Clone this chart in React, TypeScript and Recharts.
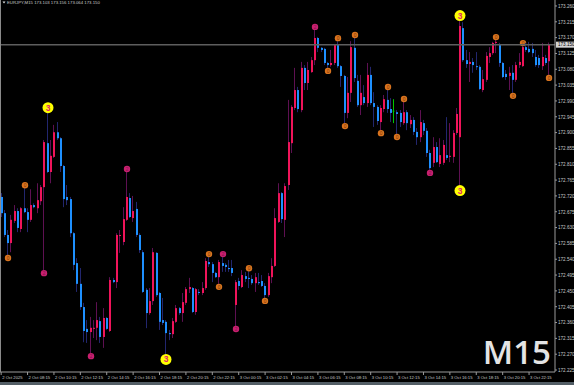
import { ComposedChart, Bar, XAxis, YAxis, ReferenceLine } from "recharts";

// [open, high, low, close] per M15 bar, EURJPY
const candles: [number, number, number, number][] = [
  [172.717, 172.728, 172.660, 172.671], [172.671, 172.680, 172.603, 172.609], [172.609, 172.623, 172.552, 172.586],
  [172.586, 172.666, 172.560, 172.652], [172.649, 172.694, 172.643, 172.677], [172.677, 172.685, 172.617, 172.629],
  [172.626, 172.688, 172.617, 172.685], [172.685, 172.742, 172.671, 172.674], [172.674, 172.685, 172.617, 172.652],
  [172.652, 172.739, 172.646, 172.694], [172.694, 172.699, 172.685, 172.688], [172.685, 172.756, 172.671, 172.708],
  [172.705, 172.751, 172.694, 172.745], [172.745, 172.879, 172.509, 172.873], [172.870, 172.958, 172.785, 172.788],
  [172.788, 172.879, 172.756, 172.834], [172.831, 172.922, 172.828, 172.901], [172.901, 172.930, 172.879, 172.884],
  [172.884, 172.887, 172.788, 172.805], [172.805, 172.808, 172.688, 172.711], [172.717, 172.751, 172.694, 172.708],
  [172.711, 172.717, 172.603, 172.614], [172.614, 172.617, 172.509, 172.524], [172.529, 172.543, 172.447, 172.470],
  [172.470, 172.515, 172.396, 172.404], [172.404, 172.416, 172.304, 172.336], [172.342, 172.367, 172.302, 172.333],
  [172.333, 172.376, 172.273, 172.345], [172.342, 172.367, 172.316, 172.345], [172.345, 172.418, 172.310, 172.367],
  [172.364, 172.376, 172.302, 172.319], [172.319, 172.401, 172.288, 172.373], [172.373, 172.376, 172.339, 172.342],
  [172.336, 172.489, 172.333, 172.481], [172.481, 172.487, 172.472, 172.475], [172.475, 172.614, 172.458, 172.609],
  [172.606, 172.623, 172.558, 172.609], [172.589, 172.688, 172.580, 172.654], [172.652, 172.788, 172.649, 172.717],
  [172.714, 172.728, 172.657, 172.660], [172.657, 172.720, 172.646, 172.677], [172.683, 172.703, 172.603, 172.609],
  [172.609, 172.614, 172.558, 172.566], [172.560, 172.566, 172.444, 172.447], [172.453, 172.458, 172.344, 172.387],
  [172.387, 172.458, 172.382, 172.421], [172.421, 172.572, 172.410, 172.560], [172.558, 172.560, 172.433, 172.438],
  [172.444, 172.447, 172.339, 172.362], [172.367, 172.430, 172.353, 172.359], [172.362, 172.367, 172.268, 172.330],
  [172.330, 172.339, 172.310, 172.327], [172.327, 172.373, 172.316, 172.364], [172.362, 172.410, 172.359, 172.401],
  [172.401, 172.404, 172.382, 172.387], [172.387, 172.444, 172.362, 172.418], [172.416, 172.461, 172.410, 172.455],
  [172.455, 172.487, 172.444, 172.461], [172.458, 172.461, 172.387, 172.390], [172.390, 172.458, 172.382, 172.455],
  [172.447, 172.455, 172.438, 172.444], [172.444, 172.475, 172.438, 172.458], [172.458, 172.543, 172.453, 172.535],
  [172.532, 172.546, 172.518, 172.526], [172.526, 172.532, 172.475, 172.501], [172.501, 172.504, 172.487, 172.489],
  [172.489, 172.538, 172.470, 172.532], [172.529, 172.546, 172.504, 172.521], [172.524, 172.529, 172.504, 172.518],
  [172.515, 172.538, 172.504, 172.512], [172.515, 172.538, 172.492, 172.501], [172.410, 172.481, 172.350, 172.475],
  [172.478, 172.487, 172.453, 172.464], [172.461, 172.509, 172.458, 172.495], [172.492, 172.504, 172.475, 172.484],
  [172.487, 172.506, 172.458, 172.484], [172.484, 172.495, 172.467, 172.472], [172.472, 172.501, 172.447, 172.489],
  [172.475, 172.501, 172.467, 172.472], [172.478, 172.495, 172.461, 172.464], [172.464, 172.472, 172.430, 172.438],
  [172.438, 172.501, 172.433, 172.492], [172.489, 172.543, 172.472, 172.521], [172.521, 172.685, 172.518, 172.657],
  [172.646, 172.756, 172.643, 172.728], [172.728, 172.731, 172.643, 172.654], [172.652, 172.756, 172.603, 172.748],
  [172.751, 172.993, 172.737, 172.873], [172.870, 172.978, 172.842, 172.973], [172.970, 173.084, 172.964, 173.021],
  [173.021, 173.030, 172.958, 172.967], [172.964, 173.101, 172.958, 173.084], [173.084, 173.092, 173.021, 173.041],
  [173.041, 173.101, 173.021, 173.078], [173.072, 173.115, 173.070, 173.106], [173.106, 173.192, 173.092, 173.169],
  [173.169, 173.172, 173.129, 173.141], [173.141, 173.143, 173.129, 173.135], [173.138, 173.141, 173.092, 173.098],
  [173.098, 173.101, 173.084, 173.092], [173.092, 173.135, 173.087, 173.098], [173.098, 173.152, 173.092, 173.149],
  [173.149, 173.160, 173.084, 173.089], [173.089, 173.092, 173.030, 173.061], [173.061, 173.064, 172.927, 172.956],
  [172.956, 173.058, 172.941, 173.013], [173.013, 173.160, 172.987, 173.143], [173.141, 173.169, 173.044, 173.055],
  [173.047, 173.064, 172.973, 172.978], [172.978, 173.064, 172.950, 173.013], [173.001, 173.035, 172.978, 172.984],
  [172.984, 173.098, 172.973, 173.064], [173.064, 173.087, 172.978, 172.984], [172.984, 173.015, 172.916, 172.973],
  [172.973, 172.978, 172.922, 172.933], [172.930, 172.978, 172.907, 172.970], [172.967, 173.007, 172.958, 172.995],
  [172.993, 173.021, 172.956, 172.967], [172.967, 172.998, 172.930, 172.956], [172.961, 172.995, 172.927, 172.961],
  [172.958, 172.964, 172.896, 172.953], [172.956, 172.964, 172.916, 172.930], [172.927, 172.987, 172.922, 172.958],
  [172.958, 172.964, 172.907, 172.927], [172.924, 172.950, 172.913, 172.936], [172.936, 172.944, 172.893, 172.902],
  [172.902, 172.913, 172.865, 172.887], [172.887, 172.964, 172.873, 172.930], [172.927, 172.936, 172.893, 172.905],
  [172.905, 172.913, 172.831, 172.842], [172.842, 172.851, 172.794, 172.799], [172.814, 172.887, 172.802, 172.859],
  [172.859, 172.873, 172.814, 172.816], [172.811, 172.884, 172.802, 172.836], [172.814, 172.879, 172.808, 172.865],
  [172.836, 172.944, 172.822, 172.828], [172.831, 172.927, 172.816, 172.834], [172.831, 172.907, 172.814, 172.899],
  [172.899, 172.970, 172.893, 172.953], [172.887, 173.220, 172.748, 173.203], [173.197, 173.214, 173.101, 173.106],
  [173.106, 173.135, 173.084, 173.095], [173.095, 173.129, 173.044, 173.101], [173.101, 173.112, 173.070, 173.092],
  [173.089, 173.129, 173.078, 173.087], [173.087, 173.092, 173.021, 173.024], [173.021, 173.078, 173.015, 173.052],
  [173.050, 173.129, 173.044, 173.118], [173.115, 173.143, 173.098, 173.126], [173.126, 173.158, 173.121, 173.155],
  [173.155, 173.163, 173.126, 173.158], [173.149, 173.155, 173.087, 173.098], [173.098, 173.101, 173.055, 173.058],
  [173.067, 173.078, 173.050, 173.058], [173.061, 173.087, 173.021, 173.070], [173.070, 173.092, 173.013, 173.050],
  [173.050, 173.101, 173.044, 173.092], [173.092, 173.126, 173.084, 173.101], [173.089, 173.146, 173.087, 173.143],
  [173.143, 173.155, 173.129, 173.135], [173.138, 173.158, 173.126, 173.129], [173.138, 173.155, 173.115, 173.126],
  [173.115, 173.135, 173.087, 173.092], [173.112, 173.121, 173.084, 173.092], [173.089, 173.155, 173.078, 173.115],
  [173.112, 173.121, 173.092, 173.098], [173.103, 173.156, 173.064, 173.150],
];

const xTickBars = [0, 8, 16, 24, 32, 40, 48, 56, 64, 72, 80, 88, 96, 104, 112, 120, 128, 136, 144, 152, 160];
const xTickLabels = [
  "2 Oct 2025", "2 Oct 08:15", "2 Oct 10:15", "2 Oct 12:15", "2 Oct 14:15", "2 Oct 16:15", "2 Oct 18:15",
  "2 Oct 20:15", "2 Oct 22:15", "3 Oct 00:15", "3 Oct 02:15", "3 Oct 04:15", "3 Oct 06:15", "3 Oct 08:15",
  "3 Oct 10:15", "3 Oct 12:15", "3 Oct 14:15", "3 Oct 16:15", "3 Oct 18:15", "3 Oct 20:15", "3 Oct 22:15",
];
const yTicks = [
  173.26, 173.215, 173.17, 173.125, 173.08, 173.035, 172.99, 172.945, 172.9, 172.855, 172.81, 172.765,
  172.72, 172.675, 172.63, 172.585, 172.54, 172.495, 172.45, 172.405, 172.36, 172.315, 172.27, 172.225,
];
const lastPrice = 173.15;

// swing markers (bar index)
const orangeHigh = [7, 63, 75, 102, 107, 117, 122, 150, 158];
const orangeLow = [2, 66, 80, 99, 104, 115, 120, 155, 166];
const pinkHigh = [38, 67, 95];
const pinkLow = [13, 27, 71, 130];
const yellowHigh = [14, 139];
const yellowLow = [50, 139];

const data = candles.map(([o, h, l, c], i) => ({ i, o, h, l, c, range: [l, h] }));

const FONT = "'Liberation Sans', Arial, sans-serif";

function Marker({ cx, cy, kind }: { cx: number; cy: number; kind: "o" | "p" | "y" }) {
  if (kind === "y") {
    return (
      <g>
        <circle cx={cx} cy={cy} r={5.5} fill="#ffff00" />
        <text x={cx} y={cy + 3} textAnchor="middle" fontSize={8.5} fontWeight="bold" fill="#e0206e" fontFamily={FONT}>3</text>
      </g>
    );
  }
  const fill = kind === "o" ? "#d9741f" : "#c8206f";
  const tf = kind === "o" ? "#7d3405" : "#84124c";
  return (
    <g>
      <circle cx={cx} cy={cy} r={3.2} fill={fill} />
      <text x={cx} y={cy + 1.7} textAnchor="middle" fontSize={4.8} fill={tf} fontFamily={FONT}>{kind === "o" ? "0" : "2"}</text>
    </g>
  );
}

// eslint-disable-next-line @typescript-eslint/no-explicit-any
function Candle(props: any) {
  const { x, y, width, height, payload } = props;
  const { o, h, l, c, i } = payload;
  const top = Math.min(y, y + height);
  const bot = Math.max(y, y + height);
  const py = (v: number) => top + ((h - v) / (h - l)) * (bot - top);
  const cx = Math.round(x + width / 2);
  const bull = c > o;
  const doji = c === o;
  const body = doji ? "#00c800" : bull ? "#f0145a" : "#1e90ff";
  const wick = doji ? "#00c800" : bull ? "#5e1052" : "#22266e";
  const bt = py(Math.max(o, c));
  const bb = py(Math.min(o, c));
  const marks = [];
  if (orangeHigh.includes(i)) marks.push(<Marker key="oh" cx={cx} cy={top - 3} kind="o" />);
  if (orangeLow.includes(i)) marks.push(<Marker key="ol" cx={cx} cy={bot + 3} kind="o" />);
  if (pinkHigh.includes(i)) marks.push(<Marker key="ph" cx={cx} cy={top - 3} kind="p" />);
  if (pinkLow.includes(i)) marks.push(<Marker key="pl" cx={cx} cy={bot + 3} kind="p" />);
  if (yellowHigh.includes(i)) marks.push(<Marker key="yh" cx={cx} cy={top - 4.5} kind="y" />);
  if (yellowLow.includes(i)) marks.push(<Marker key="yl" cx={cx} cy={bot + 4.5} kind="y" />);
  return (
    <g>
      <line x1={cx - 0.5} x2={cx - 0.5} y1={top} y2={bot} stroke={wick} strokeWidth={1} />
      {doji ? (
        <line x1={cx - 1.5} x2={cx + 0.5} y1={bt} y2={bt} stroke={body} strokeWidth={1} />
      ) : (
        <rect x={cx - 1} y={bt} width={2} height={Math.max(1, bb - bt)} fill={body} />
      )}
      {marks}
    </g>
  );
}

// eslint-disable-next-line @typescript-eslint/no-explicit-any
function XTick(props: any) {
  const { x, payload } = props;
  const k = xTickBars.indexOf(payload.value);
  if (k < 0) return null;
  return (
    <g>
      <line x1={x - 0.5} x2={x - 0.5} y1={372} y2={375} stroke="#9a9a9a" strokeWidth={1} />
      <text x={x + 0.5} y={379} fontSize={4.2} fill="#c8c8c8" fontFamily={FONT}>{xTickLabels[k]}</text>
    </g>
  );
}

// eslint-disable-next-line @typescript-eslint/no-explicit-any
function YTick(props: any) {
  const { y, payload } = props;
  return (
    <g>
      <line x1={555} x2={557} y1={y} y2={y} stroke="#9a9a9a" strokeWidth={1} />
      <text x={558} y={y + 1.8} fontSize={4.6} fill="#c8c8c8" fontFamily={FONT}>{Number(payload.value).toFixed(3)}</text>
    </g>
  );
}

// eslint-disable-next-line @typescript-eslint/no-explicit-any
function PriceLabel(props: any) {
  const vb = props.viewBox || {};
  const y = vb.y ?? 0;
  return (
    <g>
      <rect x={556} y={y - 3} width={18} height={6} fill="#d4d4d4" />
      <text x={558} y={y + 1.7} fontSize={4.6} fill="#000" fontFamily={FONT}>{lastPrice.toFixed(3)}</text>
    </g>
  );
}

export default function App() {
  return (
    <div style={{ position: "fixed", left: 0, top: 0, width: 574, height: 385, background: "#000", overflow: "hidden" }}>
      <ComposedChart width={574} height={385} data={data} margin={{ top: 0, right: 0, bottom: 0, left: 0 }} barCategoryGap={0}>
        <XAxis
          dataKey="i"
          type="category"
          ticks={xTickBars}
          interval={0}
          tick={<XTick />}
          tickLine={false}
          axisLine={{ stroke: "#9a9a9a" }}
          height={13}
          padding={{ left: 0, right: 4 }}
        />
        <YAxis
          orientation="right"
          type="number"
          domain={[172.2194, 173.277]}
          allowDataOverflow
          ticks={yTicks}
          interval={0}
          tick={<YTick />}
          tickLine={false}
          axisLine={{ stroke: "#9a9a9a" }}
          width={19}
        />
        <ReferenceLine y={lastPrice} stroke="#5e5e5e" strokeWidth={1.5} label={<PriceLabel />} />
        <Bar dataKey="range" shape={<Candle />} isAnimationActive={false} />
      </ComposedChart>
      <svg width={574} height={385} style={{ position: "absolute", left: 0, top: 0, pointerEvents: "none" }}>
        <line x1={0.5} x2={0.5} y1={0} y2={372} stroke="#8a8a8a" strokeWidth={1} />
        <path d="M2.5 1.5 L5.5 1.5 L4 3.5 Z" fill="#e0e0e0" />
        <text x={7} y={3.8} fontSize={4.3} fill="#c8c8c8" fontFamily={FONT}>EURJPY,M15  173.103 173.156 173.064 173.150</text>
        <text x={551} y={364} textAnchor="end" fontSize={33} fontWeight={600} fill="#e4e4e4" fontFamily="'Open Sans', 'Liberation Sans', sans-serif">M15</text>
        <rect x={0} y={382} width={574} height={3} fill="#535e66" />
      </svg>
    </div>
  );
}
